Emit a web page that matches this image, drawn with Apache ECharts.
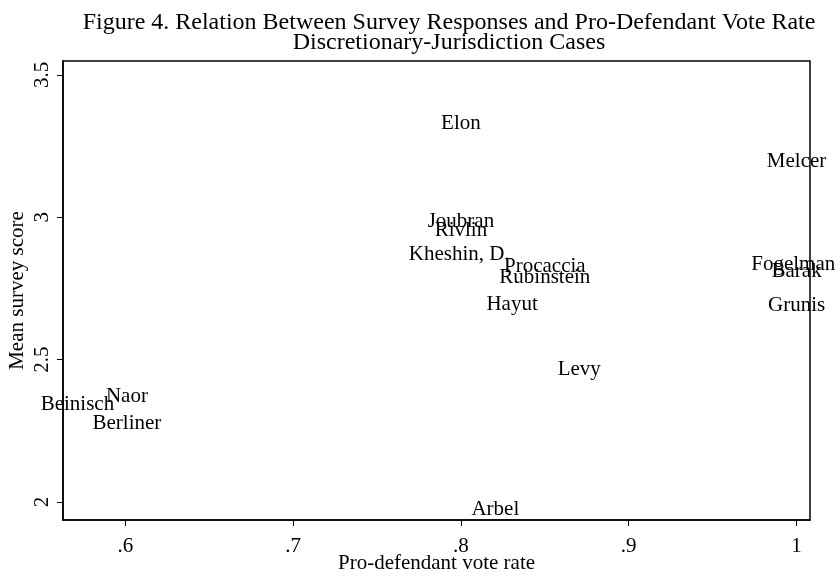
<!DOCTYPE html>
<html>
<head>
<meta charset="utf-8">
<script src="https://cdn.jsdelivr.net/npm/echarts@6/dist/echarts.min.js"></script>
<style>html,body{margin:0;padding:0;background:#fff;}#c{width:840px;height:576px;}</style>
</head>
<body>
<div id="c"></div>
<script>
var judges = ['Elon','Melcer','Joubran','Rivlin','Kheshin, D.','Procaccia','Fogelman','Barak','Rubinstein','Hayut','Grunis','Levy','Naor','Beinisch','Berliner','Arbel'];
var voteRate = [0.800,1.000,0.800,0.800,0.799,0.850,0.998,1.000,0.850,0.8305,1.000,0.8705,0.601,0.5715,0.601,0.8205];
var surveyScore = [3.330,3.195,2.985,2.954,2.871,2.829,2.836,2.808,2.787,2.694,2.690,2.467,2.370,2.344,2.277,1.975];
var xTicks = [0.6,0.7,0.8,0.9,1];
var xTickLabels = ['.6','.7','.8','.9','1'];
var yTicks = [2,2.5,3,3.5];
var yTickLabels = ['2','2.5','3','3.5'];

var FONT = 'Liberation Serif';
var points = judges.map(function(n,i){ return {name:n, value:[voteRate[i], surveyScore[i]]}; });

var chart = echarts.init(document.getElementById('c'));
chart.setOption({
  backgroundColor:'#fff',
  animation:false,
  title:{
    text:'Figure 4. Relation Between Survey Responses and Pro-Defendant Vote Rate\nDiscretionary-Jurisdiction Cases',
    left:444, top:8, textAlign:'center',
    textStyle:{fontFamily:FONT, fontWeight:'normal', fontSize:24, lineHeight:20, color:'#000'}
  },
  grid:{left:63, right:30, top:61, bottom:56, containLabel:false, outerBoundsMode:'none',
    show:true, borderColor:'#000', borderWidth:1.5, backgroundColor:'transparent'},
  xAxis:{
    type:'value', min:0.5629, max:1.008,
    splitLine:{show:false},
    axisLine:{show:true, lineStyle:{color:'#000', width:1.5}},
    axisTick:{show:true, inside:false, length:6, lineStyle:{color:'#000'}, customValues:xTicks},
    axisLabel:{show:true, margin:16, fontFamily:FONT, fontSize:21, color:'#000', customValues:xTicks,
      formatter:function(v){ var i = xTicks.findIndex(function(t){return Math.abs(t-v)<1e-6;}); return i>=0?xTickLabels[i]:''; }},
    name:'Pro-defendant vote rate', nameLocation:'middle', nameGap:33, nameMoveOverlap:false,
    nameTextStyle:{fontFamily:FONT, fontSize:21, color:'#000'}
  },
  yAxis:{
    type:'value', min:1.9368, max:3.549,
    splitLine:{show:false},
    axisLine:{show:true, lineStyle:{color:'#000', width:1.5}},
    axisTick:{show:true, inside:false, length:6, lineStyle:{color:'#000'}, customValues:yTicks},
    axisLabel:{show:true, rotate:90, margin:10, fontFamily:FONT, fontSize:21, color:'#000', customValues:yTicks,
      formatter:function(v){ var i = yTicks.findIndex(function(t){return Math.abs(t-v)<1e-6;}); return i>=0?yTickLabels[i]:''; }},
    name:'Mean survey score', nameLocation:'middle', nameGap:35, nameRotate:90, nameMoveOverlap:false,
    nameTextStyle:{fontFamily:FONT, fontSize:21, color:'#000'}
  },
  series:[{
    type:'scatter',
    data:points,
    symbol:'circle', symbolSize:0,
    itemStyle:{color:'transparent', opacity:1},
    label:{show:true, position:'inside', formatter:'{b}', fontFamily:FONT, fontSize:21, color:'#000', opacity:1},
    labelLayout:{hideOverlap:false},
    silent:true
  }]
});
</script>
</body>
</html>
